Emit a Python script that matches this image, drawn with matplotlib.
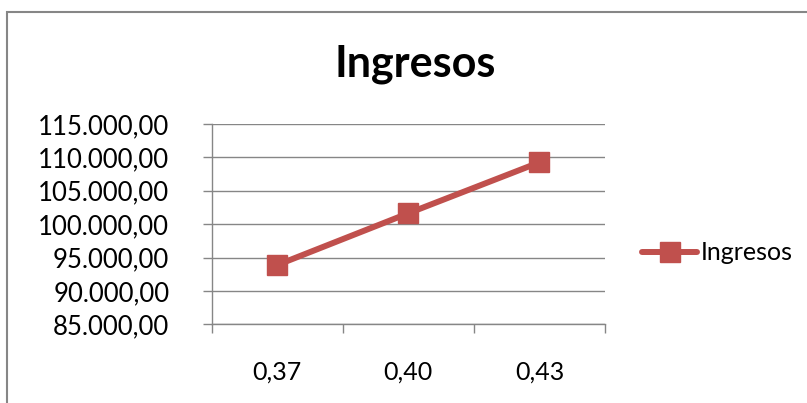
import matplotlib
matplotlib.use("Agg")
import matplotlib.pyplot as plt
from matplotlib.patches import Rectangle
from matplotlib.ticker import FuncFormatter

# datos
categorias = ["0,37", "0,40", "0,43"]
ingresos = [93880, 101630, 109260]
y_ticks = [85000, 90000, 95000, 100000, 105000, 110000, 115000]

color_linea = "#C0504D"
color_gris = "#868686"

plt.rcParams["font.family"] = ["Lato", "DejaVu Sans"]


def formato_es(v, pos=None):
    s = f"{v:,.2f}"
    return s.replace(",", "X").replace(".", ",").replace("X", ".")


fig = plt.figure(figsize=(8.07, 4.03), dpi=100)
ax = fig.add_axes([0.2623, 0.1953, 0.4874, 0.4970])

x = list(range(len(categorias)))
ax.plot(x, ingresos, color=color_linea, linewidth=4.3, marker="s",
        markersize=14, label="Ingresos", solid_capstyle="round")

ax.set_xlim(-0.5, len(categorias) - 0.5)
ax.set_ylim(y_ticks[0], y_ticks[-1])

# eje x: etiquetas centradas, marcas en los bordes
ax.set_xticks(x)
ax.set_xticklabels(categorias, fontsize=18)
ax.set_xticks([i - 0.5 for i in range(len(categorias) + 1)], minor=True)
ax.tick_params(axis="x", which="major", length=0, pad=26)
ax.tick_params(axis="x", which="minor", length=6.5, width=1, color=color_gris,
               direction="out")

ax.set_yticks(y_ticks)
ax.yaxis.set_major_formatter(FuncFormatter(formato_es))
ax.tick_params(axis="y", length=6.5, width=1, color=color_gris, pad=24,
               labelsize=18.5)

ax.grid(axis="y", color=color_gris, linewidth=1)
ax.set_axisbelow(True)
for lado in ["top", "right"]:
    ax.spines[lado].set_visible(False)
for lado in ["left", "bottom"]:
    ax.spines[lado].set_color(color_gris)
    ax.spines[lado].set_linewidth(1)

fig.text(0.514, 0.84, "Ingresos", ha="center", va="center",
         fontsize=31, fontweight="bold")

ax.legend(loc="center left", bbox_to_anchor=(1.095, 0.356), frameon=False,
          fontsize=18, handlelength=2.2, handletextpad=0.15, borderaxespad=0,
          borderpad=0)

# borde del grafico
fig.patches.append(Rectangle((7 / 807, -0.1), 1.2, (1 - 12 / 403) + 0.1,
                             transform=fig.transFigure, fill=False,
                             edgecolor=color_gris, linewidth=1.5))

fig.savefig("out.png", dpi=100)
